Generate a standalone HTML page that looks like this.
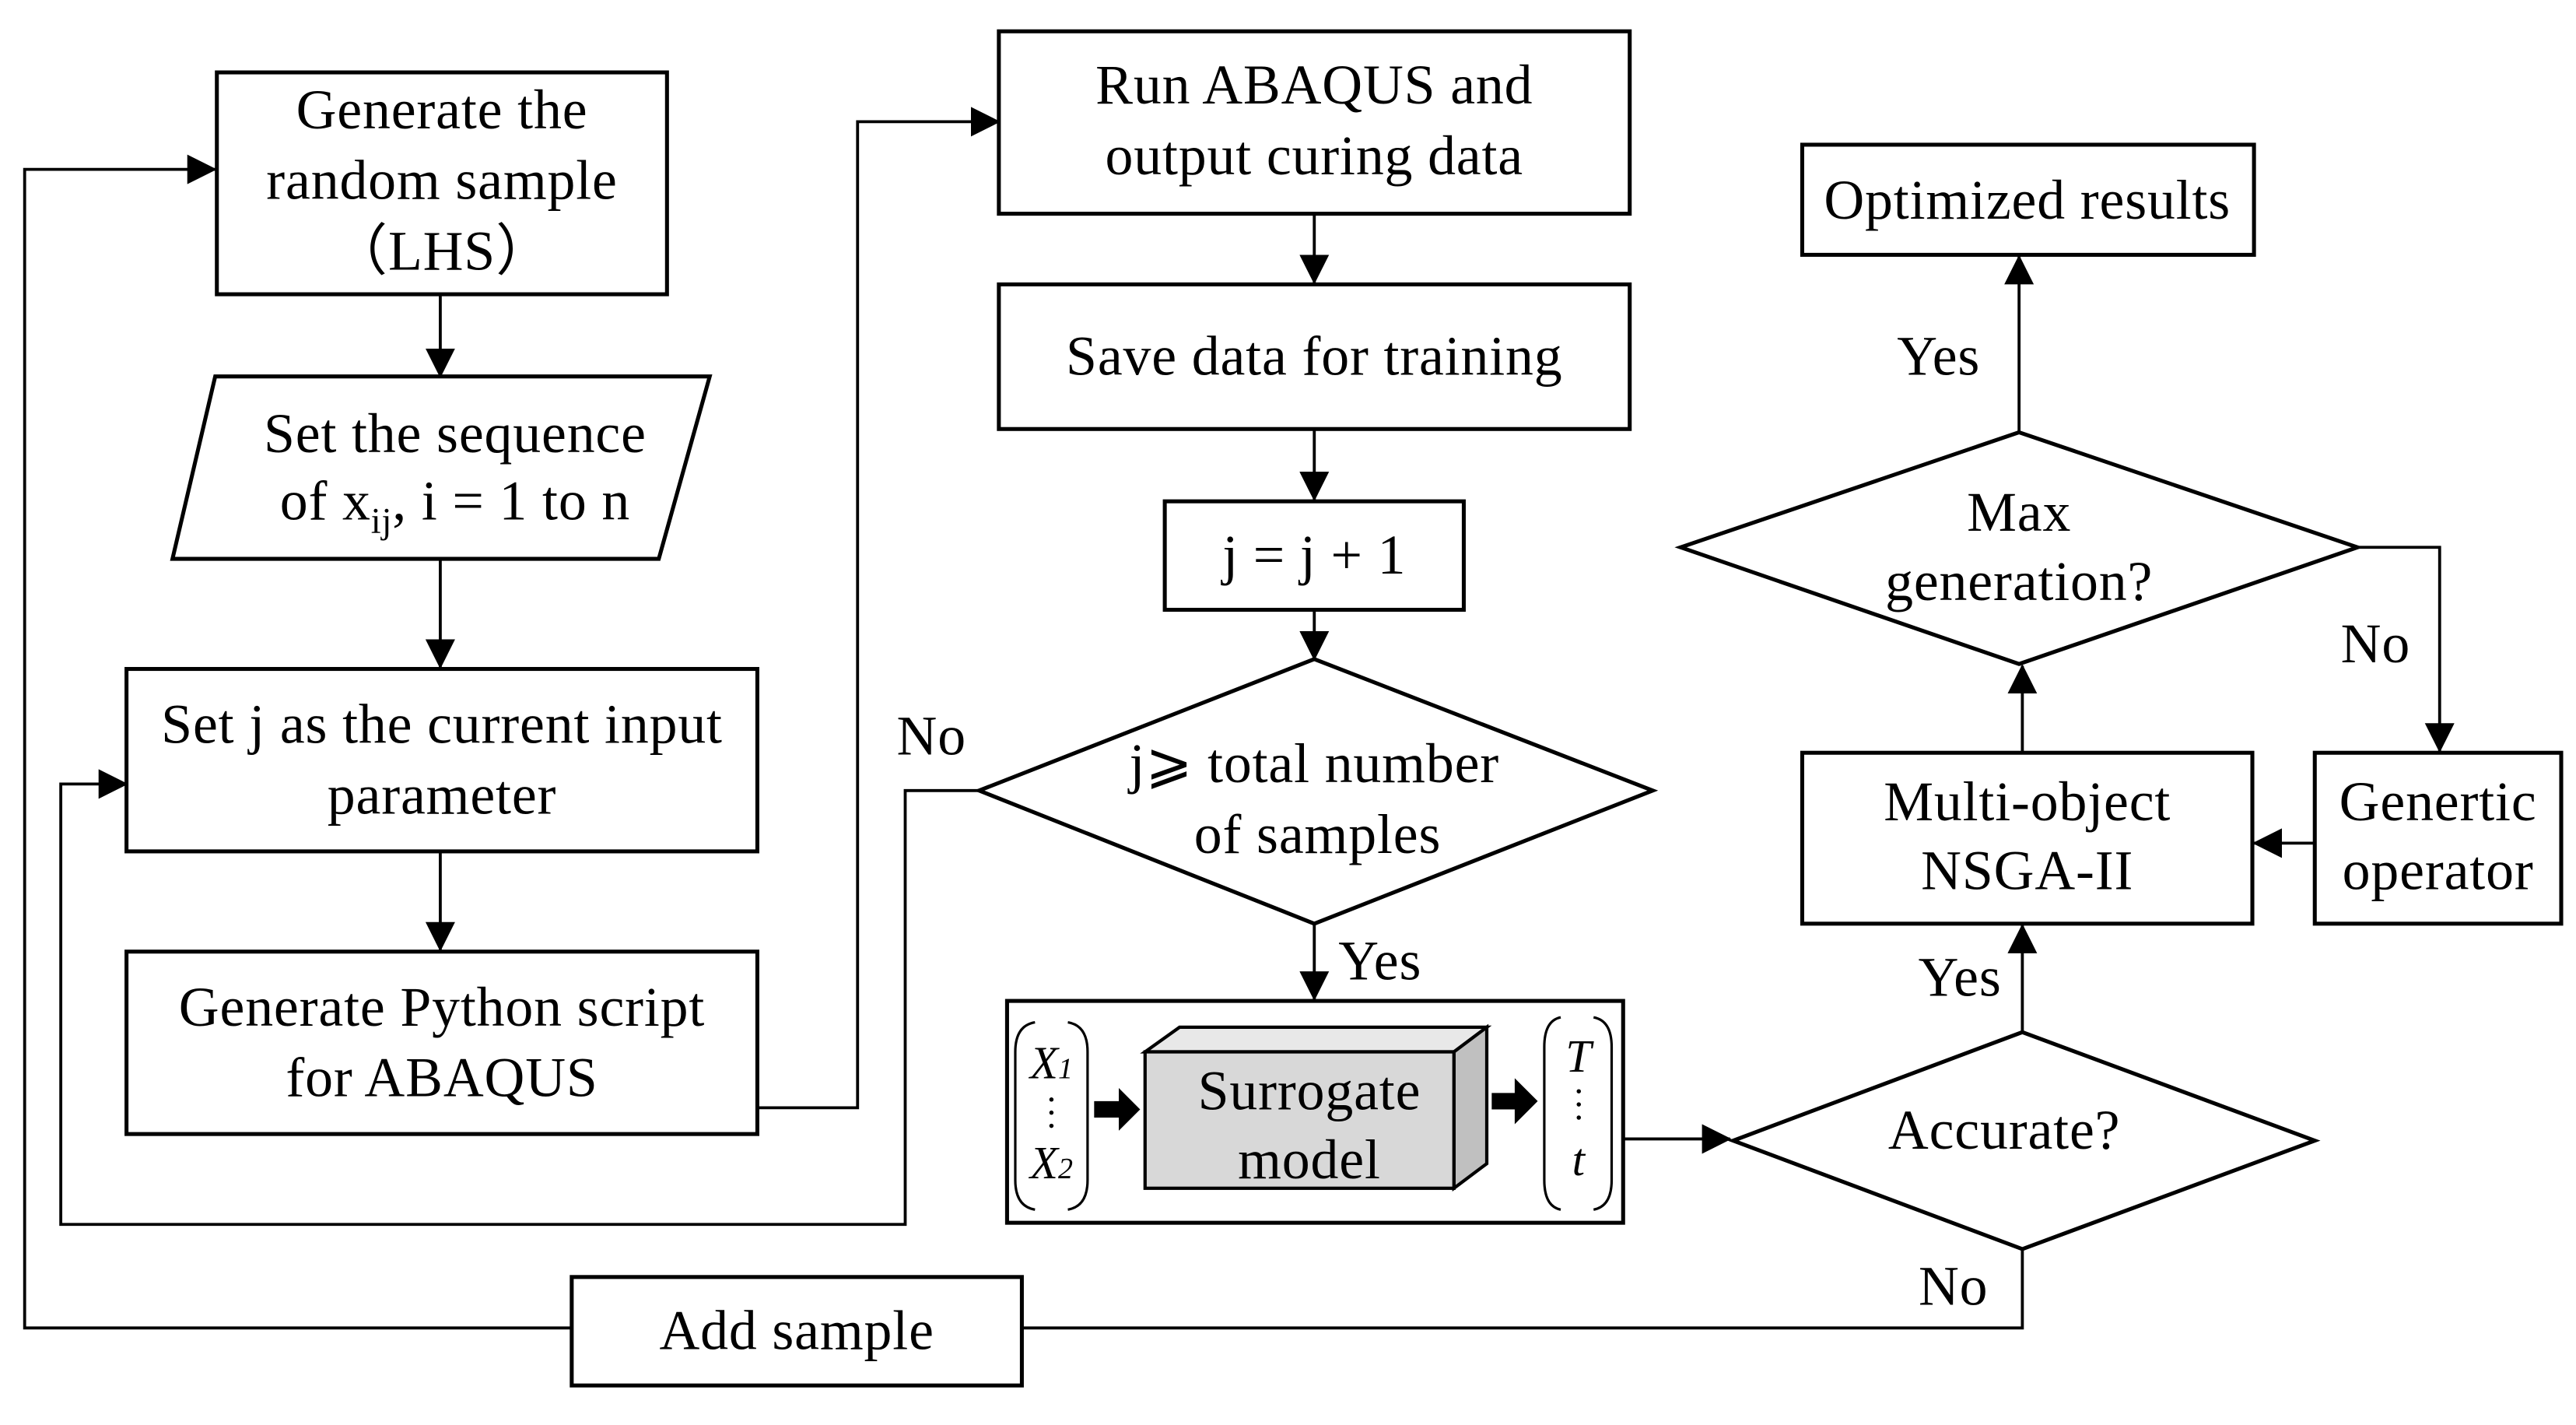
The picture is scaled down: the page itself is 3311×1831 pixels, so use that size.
<!DOCTYPE html>
<html><head><meta charset="utf-8"><style>
html,body{margin:0;padding:0;background:#fff;}
svg{display:block;}
text{font-family:"Liberation Serif",serif;font-size:34px;fill:#000;text-anchor:middle;letter-spacing:0.4px;}
</style></head><body>
<svg width="3311" height="1831" viewBox="0 0 1568 867" xmlns="http://www.w3.org/2000/svg">
<defs>
<marker id="b" markerWidth="18" markerHeight="18" refX="17" refY="9" orient="auto" markerUnits="userSpaceOnUse">
<path d="M0,0 L18,9 L0,18 z" fill="#000"/></marker>
</defs>
<g fill="none" stroke="#000" stroke-width="2.4">
<rect x="132" y="44" width="274" height="135"/>
<polygon points="131,229 432,229 401,340 105,340"/>
<rect x="77" y="407" width="384" height="111"/>
<rect x="77" y="579" width="384" height="111"/>
<rect x="608" y="19" width="384" height="111"/>
<rect x="608" y="173" width="384" height="88"/>
<rect x="709" y="305" width="182" height="66"/>
<polygon points="800,401 1006,481 800,562 596,481"/>
<rect x="613" y="609" width="375" height="135"/>
<polygon points="1231,628 1409,694 1231,760 1055,694"/>
<rect x="1097" y="458" width="274" height="104"/>
<polygon points="1229,263 1435,333 1229,404 1023,333"/>
<rect x="1097" y="88" width="275" height="67"/>
<rect x="1409" y="458" width="150" height="104"/>
<rect x="348" y="777" width="274" height="66"/>
</g>
<g fill="none" stroke="#000" stroke-width="1.8" marker-end="url(#b)">
<line x1="268" y1="179" x2="268" y2="229"/>
<line x1="268" y1="340" x2="268" y2="406"/>
<line x1="268" y1="518" x2="268" y2="578"/>
<polyline points="461,674 522,674 522,74 608,74"/>
<line x1="800" y1="130" x2="800" y2="172"/>
<line x1="800" y1="261" x2="800" y2="304"/>
<line x1="800" y1="371" x2="800" y2="401"/>
<polyline points="596,481 551,481 551,745 37,745 37,477 77,477"/>
<line x1="800" y1="562" x2="800" y2="608"/>
<line x1="988" y1="693" x2="1053" y2="693"/>
<line x1="1231" y1="628" x2="1231" y2="563"/>
<line x1="1231" y1="458" x2="1231" y2="405"/>
<line x1="1229" y1="263" x2="1229" y2="156"/>
<polyline points="1435,333 1485,333 1485,457"/>
<line x1="1409" y1="513" x2="1372" y2="513"/>
<polyline points="348,808 15,808 15,103 131,103"/>
</g>
<polyline points="1231,760 1231,808 622,808" fill="none" stroke="#000" stroke-width="1.8"/>
<g stroke="#000" stroke-width="2">
<polygon points="697,640 718,625 905,625 885,640" fill="#e8e8e8"/>
<polygon points="885,640 905,625 905,708 885,723" fill="#c0c0c0"/>
<rect x="697" y="640" width="188" height="83" fill="#d8d8d8"/>
</g>
<g fill="none" stroke="#000" stroke-width="1.5">
<path d="M630,622 Q618,624 618,640 L618,718 Q618,734 630,736"/>
<path d="M650,622 Q662,624 662,640 L662,718 Q662,734 650,736"/>
<path d="M950,619 Q940,621 940,637 L940,718 Q940,734 950,736"/>
<path d="M970,619 Q981,621 981,637 L981,718 Q981,734 970,736"/>
</g>
<path d="M666,670 L681,670 L681,662 L694,675 L681,688 L681,680 L666,680 z" fill="#000"/>
<path d="M908,665 L922,665 L922,656 L936,670 L922,684 L922,675 L908,675 z" fill="#000"/>
<g fill="#000"><circle cx="640" cy="669" r="1.3"/><circle cx="640" cy="677" r="1.3"/><circle cx="640" cy="685" r="1.3"/>
<circle cx="961" cy="664" r="1.3"/><circle cx="961" cy="672" r="1.3"/><circle cx="961" cy="680" r="1.3"/></g>
<text x="640" y="656" style="font-style:italic;font-size:28px;letter-spacing:0">X<tspan font-size="18">1</tspan></text>
<text x="640" y="717" style="font-style:italic;font-size:28px;letter-spacing:0">X<tspan font-size="18">2</tspan></text>
<text x="961" y="652" style="font-style:italic;font-size:28px">T</text>
<text x="961" y="715" style="font-style:italic;font-size:28px">t</text>
<text x="797" y="675">Surrogate</text>
<text x="797" y="717">model</text>
<text x="269" y="78">Generate the</text>
<text x="269" y="121">random sample</text>
<text x="269" y="164">（LHS）</text>
<text x="277" y="275">Set the sequence</text>
<text x="277" y="316">of x<tspan font-size="22" dy="8">ij</tspan><tspan dy="-8">, i = 1 to n</tspan></text>
<text x="269" y="452">Set j as the current  input</text>
<text x="269" y="495">parameter</text>
<text x="269" y="624">Generate Python script</text>
<text x="269" y="667">for ABAQUS</text>
<text x="800" y="63">Run ABAQUS and</text>
<text x="800" y="106">output curing data</text>
<text x="800" y="228">Save data for training</text>
<text x="800" y="349">j = j + 1</text>
<text x="800" y="476">j⩾ total number</text>
<text x="802" y="519">of samples</text>
<text x="567" y="459">No</text>
<text x="840" y="596">Yes</text>
<text x="1220" y="699">Accurate?</text>
<text x="1193" y="606">Yes</text>
<text x="1234" y="499">Multi-object</text>
<text x="1234" y="541">NSGA-II</text>
<text x="1229" y="323">Max</text>
<text x="1229" y="365">generation?</text>
<text x="1180" y="228">Yes</text>
<text x="1234" y="133">Optimized results</text>
<text x="1446" y="403">No</text>
<text x="1484" y="499">Genertic</text>
<text x="1484" y="541">operator</text>
<text x="1189" y="794">No</text>
<text x="485" y="821">Add sample</text>
</svg>
</body></html>
